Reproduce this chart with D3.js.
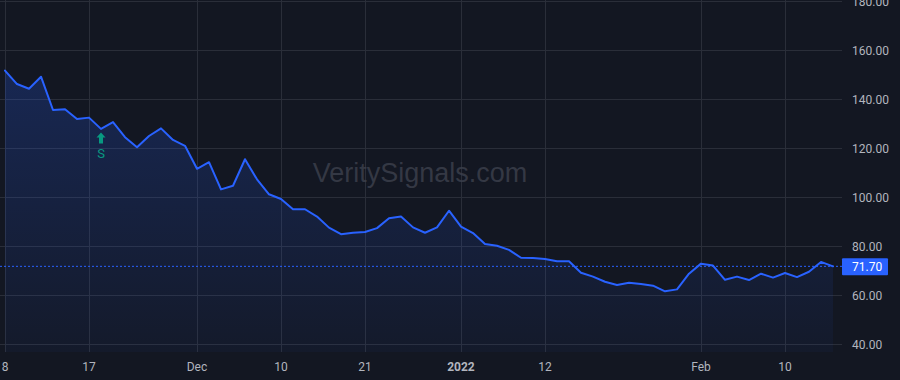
<!DOCTYPE html>
<html>
<head>
<meta charset="utf-8">
<script src="https://cdn.jsdelivr.net/npm/d3@7/dist/d3.min.js"></script>
<style>
  html, body { margin: 0; padding: 0; background: #131722; }
  svg { display: block; }
</style>
</head>
<body>
<svg id="chart" width="900" height="380"></svg>
<script>
// ---- data ----
const dates = [
  "2021-11-08","2021-11-09","2021-11-10","2021-11-11","2021-11-12","2021-11-15","2021-11-16","2021-11-17",
  "2021-11-18","2021-11-19","2021-11-22","2021-11-23","2021-11-24","2021-11-26","2021-11-29","2021-11-30",
  "2021-12-01","2021-12-02","2021-12-03","2021-12-06","2021-12-07","2021-12-08","2021-12-09","2021-12-10",
  "2021-12-13","2021-12-14","2021-12-15","2021-12-16","2021-12-17","2021-12-20","2021-12-21","2021-12-22",
  "2021-12-23","2021-12-27","2021-12-28","2021-12-29","2021-12-30","2021-12-31",
  "2022-01-03","2022-01-04","2022-01-05","2022-01-06","2022-01-07","2022-01-10","2022-01-11","2022-01-12",
  "2022-01-13","2022-01-14","2022-01-18","2022-01-19","2022-01-20","2022-01-21","2022-01-24","2022-01-25",
  "2022-01-26","2022-01-27","2022-01-28","2022-01-31",
  "2022-02-01","2022-02-02","2022-02-03","2022-02-04","2022-02-07","2022-02-08","2022-02-09","2022-02-10",
  "2022-02-11","2022-02-14","2022-02-15","2022-02-16"
];
const prices = [
  151.6,146.1,144.2,149.1,135.5,135.8,131.8,132.4,
  127.8,130.6,124.4,120.3,124.9,128.0,123.3,120.9,
  111.5,114.2,103.1,104.6,115.4,107.2,101.1,99.2,
  95.0,95.0,92.0,87.5,84.8,85.4,85.7,87.3,
  91.3,92.0,87.6,85.4,87.6,94.4,
  87.9,85.3,80.8,80.1,78.4,75.2,75.1,74.7,
  73.8,73.8,69.1,67.5,65.4,64.1,65.0,64.5,
  63.8,61.5,62.3,68.7,
  72.8,72.0,66.2,67.5,66.1,68.7,67.1,69.0,
  67.3,69.5,73.5,71.7
];
const lastPrice = 71.70;
const yTicks = [40, 60, 80, 100, 120, 140, 160, 180];
const xTickDates = ["2021-11-08","2021-11-17","2021-12-01","2021-12-10","2021-12-21","2022-01-03","2022-01-12","2022-02-01","2022-02-10"];
const xTickLabels = ["8","17","Dec","10","21","2022","12","Feb","10"];
const signalDates = ["2021-11-18"];
const signalLabels = ["S"];
const watermark = "VeritySignals.com";

// ---- layout ----
const W = 900, H = 380;
const plotRight = 842, plotBottom = 352;
const svg = d3.select("#chart");

const x = d3.scaleLinear().domain([0, dates.length - 1]).range([5, 833]);
const y = d3.scaleLinear().domain([40, 180]).range([344, 1]);
const idx = d => dates.indexOf(d);

svg.append("rect").attr("width", W).attr("height", H).attr("fill", "#131722");

const defs = svg.append("defs");
const grad = defs.append("linearGradient").attr("id", "fillGrad")
  .attr("x1", 0).attr("y1", 0).attr("x2", 0).attr("y2", 1);
grad.append("stop").attr("offset", "0%").attr("stop-color", "#2962ff").attr("stop-opacity", 0.22);
grad.append("stop").attr("offset", "100%").attr("stop-color", "#2962ff").attr("stop-opacity", 0.04);
defs.append("clipPath").attr("id", "plotClip").append("rect")
  .attr("x", 0).attr("y", 0).attr("width", plotRight).attr("height", plotBottom);

// grid
const grid = svg.append("g");
grid.selectAll("line.h").data(yTicks).join("line")
  .attr("x1", 0).attr("x2", plotRight)
  .attr("y1", d => Math.round(y(d)) + 0.5).attr("y2", d => Math.round(y(d)) + 0.5)
  .attr("stroke", "#2a2e39").attr("stroke-width", 1);
grid.selectAll("line.v").data(xTickDates).join("line")
  .attr("y1", 0).attr("y2", plotBottom)
  .attr("x1", d => Math.round(x(idx(d))) + 0.5).attr("x2", d => Math.round(x(idx(d))) + 0.5)
  .attr("stroke", "#2a2e39").attr("stroke-width", 1);

// watermark
svg.append("text").attr("x", 420).attr("y", 182).attr("text-anchor", "middle")
  .attr("font-family", "Liberation Sans, Arial, sans-serif").attr("font-size", 27)
  .attr("fill", "#3b3f4b").attr("fill-opacity", 0.85).text(watermark);

const plot = svg.append("g").attr("clip-path", "url(#plotClip)");

// area
const area = d3.area().x((d, i) => x(i)).y0(plotBottom).y1(d => y(d));
plot.append("path").datum(prices).attr("d", area).attr("fill", "url(#fillGrad)");

// price line (dashed)
plot.append("line").attr("x1", 0).attr("x2", plotRight)
  .attr("y1", y(lastPrice)).attr("y2", y(lastPrice))
  .attr("stroke", "#2962ff").attr("stroke-width", 1).attr("stroke-dasharray", "2,2");

// line
const line = d3.line().x((d, i) => x(i)).y(d => y(d));
plot.append("path").datum(prices).attr("d", line)
  .attr("fill", "none").attr("stroke", "#2962ff").attr("stroke-width", 2)
  .attr("stroke-linejoin", "round").attr("stroke-linecap", "round");

// signals
signalDates.forEach((sd, k) => {
  const i = idx(sd);
  const cx = x(i);
  const ty = y(prices[i]) + 3.5;
  const g = svg.append("g");
  g.append("path")
    .attr("d", `M${cx},${ty} L${cx + 4.5},${ty + 5} L${cx + 2},${ty + 5} L${cx + 2},${ty + 11} L${cx - 2},${ty + 11} L${cx - 2},${ty + 5} L${cx - 4.5},${ty + 5} Z`)
    .attr("fill", "#089981");
  g.append("text").attr("x", cx).attr("y", ty + 25.5).attr("text-anchor", "middle")
    .attr("font-family", "Roboto, sans-serif").attr("font-size", 13)
    .attr("fill", "#089981").text(signalLabels[k]);
});

// y axis labels
svg.append("g").selectAll("text").data(yTicks).join("text")
  .attr("x", 852).attr("y", d => y(d) + 4.5)
  .attr("font-family", "Roboto, sans-serif").attr("font-size", 12)
  .attr("fill", "#b2b5be").text(d => d3.format(".2f")(d));

// last price label
svg.append("rect").attr("x", 842).attr("y", y(lastPrice) - 8).attr("width", 46).attr("height", 17)
  .attr("rx", 1).attr("fill", "#2962ff");
svg.append("text").attr("x", 852).attr("y", y(lastPrice) + 4.5)
  .attr("font-family", "Roboto, sans-serif").attr("font-size", 12)
  .attr("fill", "#ffffff").text(d3.format(".2f")(lastPrice));

// x axis labels
svg.append("g").selectAll("text").data(xTickDates).join("text")
  .attr("x", d => x(idx(d))).attr("y", 371).attr("text-anchor", "middle")
  .attr("font-family", "Roboto, sans-serif").attr("font-size", 12)
  .attr("font-weight", (d, i) => /^\d{4}$/.test(xTickLabels[i]) ? "bold" : "normal")
  .attr("fill", "#b2b5be").text((d, i) => xTickLabels[i]);
</script>
</body>
</html>
